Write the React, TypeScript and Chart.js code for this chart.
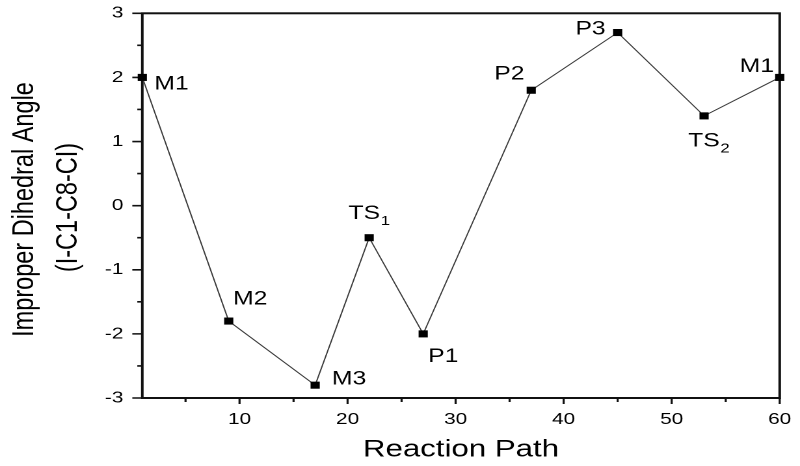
import React, { useEffect, useRef } from 'react';
import { Chart, registerables } from 'chart.js';

Chart.register(...registerables);

// ---- data ----
const reactionPath = [1, 9, 17, 22, 27, 37, 45, 53, 60];
const dihedralAngle = [2.0, -1.8, -2.8, -0.5, -2.0, 1.8, 2.7, 1.4, 2.0];
const pointNames = ['M1', 'M2', 'M3', 'TS_1', 'P1', 'P2', 'P3', 'TS_2', 'M1'];
const xTickValues = [5, 10, 15, 20, 25, 30, 35, 40, 45, 50, 55, 60];
const yTickValues = [-3, -2.5, -2, -1.5, -1, -0.5, 0, 0.5, 1, 1.5, 2, 2.5, 3];
const xTitle = 'Reaction Path';
const yTitleLines = ['Improper Dihedral Angle', '(I-C1-C8-CI)'];

// ---- style / layout ----
const LOGICAL_W = 615;
const H = 466;
const S = 800 / LOGICAL_W; // horizontal stretch of the picture
const FONT = '"Liberation Sans", Arial, Helvetica, sans-serif';

// label placement relative to point (screen px): dx, baseline dy, align
const labelPlacement = [
  { dx: 12, dy: 12, align: 'left' },
  { dx: 4.3, dy: -16.7, align: 'left' },
  { dx: 16.7, dy: -0.7, align: 'left' },
  { dx: -20.7, dy: -18.7, align: 'left' },
  { dx: 5, dy: 28, align: 'left' },
  { dx: -6.7, dy: -10.7, align: 'right' },
  { dx: -12, dy: 2, align: 'right' },
  { dx: -16, dy: 30.7, align: 'left' },
  { dx: -5.7, dy: -5.6, align: 'right' },
];
const yTitlePos = [
  { x: 33, y: 209.5 },
  { x: 77, y: 207.5 },
];

const framePlugin = {
  id: 'frame',
  beforeDatasetsDraw(chart: any) {
    const { ctx, chartArea: a, scales } = chart;
    const xs = scales.x;
    const ys = scales.y;
    ctx.save();
    ctx.strokeStyle = '#111';
    ctx.lineWidth = 2;
    ctx.strokeRect(a.left, a.top, a.right - a.left, a.bottom - a.top);
    ctx.lineWidth = 1.6;
    ctx.beginPath();
    xs.ticks.forEach((t: any) => {
      const px = xs.getPixelForValue(t.value);
      const len = t.value % 10 === 0 ? 6 : 4;
      ctx.moveTo(px, a.bottom);
      ctx.lineTo(px, a.bottom + len);
    });
    ctx.stroke();
    ctx.beginPath();
    ctx.lineWidth = 1.6;
    ys.ticks.forEach((t: any) => {
      const py = ys.getPixelForValue(t.value);
      const len = Number.isInteger(t.value) ? 10 / S : 5 / S;
      ctx.moveTo(a.left, py);
      ctx.lineTo(a.left - len, py);
    });
    ctx.stroke();
    ctx.restore();
  },
  afterDatasetsDraw(chart: any) {
    const { ctx, chartArea: a } = chart;
    const meta = chart.getDatasetMeta(0);
    ctx.save();
    ctx.fillStyle = '#000';
    ctx.textBaseline = 'alphabetic';
    // point labels
    pointNames.forEach((name, i) => {
      const el = meta.data[i];
      const p = labelPlacement[i];
      const [main, sub] = name.split('_');
      ctx.font = `19px ${FONT}`;
      const mw = ctx.measureText(main).width;
      ctx.font = `13px ${FONT}`;
      const sw = sub ? ctx.measureText(sub).width : 0;
      let x0 = el.x + p.dx / S;
      if (p.align === 'right') x0 -= mw + sw;
      const yb = el.y + p.dy;
      ctx.textAlign = 'left';
      ctx.font = `19px ${FONT}`;
      ctx.fillText(main, x0, yb);
      if (sub) {
        ctx.font = `13px ${FONT}`;
        ctx.fillText(sub, x0 + mw + 0.5, yb + 6);
      }
    });
    // x title
    ctx.font = `24px ${FONT}`;
    ctx.textAlign = 'center';
    ctx.fillText(xTitle, (a.left + a.right) / 2, 456.7);
    // y title
    yTitleLines.forEach((line, i) => {
      ctx.save();
      ctx.translate(yTitlePos[i].x / S, yTitlePos[i].y);
      ctx.rotate(-Math.PI / 2);
      ctx.font = `23.5px ${FONT}`;
      ctx.textAlign = 'center';
      ctx.fillText(line, 0, 0);
      ctx.restore();
    });
    ctx.restore();
  },
};

export default function App() {
  const ref = useRef<HTMLCanvasElement>(null);
  useEffect(() => {
    const canvas = ref.current!;
    const chart = new Chart(canvas, {
      type: 'line',
      data: {
        datasets: [
          {
            data: reactionPath.map((x, i) => ({ x, y: dihedralAngle[i] })),
            borderColor: '#3a3a3a',
            borderWidth: 1,
            pointStyle: 'rect',
            pointRadius: 5,
            pointBackgroundColor: '#000',
            pointBorderColor: '#000',
            pointBorderWidth: 0,
            tension: 0,
            clip: false as any,
          },
        ],
      },
      options: {
        responsive: false,
        devicePixelRatio: 2,
        animation: false,
        layout: {
          autoPadding: false,
          padding: { top: 13.3, right: LOGICAL_W - 779.7 / S, left: 0, bottom: 0 },
        },
        plugins: { legend: { display: false }, tooltip: { enabled: false } },
        scales: {
          x: {
            type: 'linear',
            min: 1,
            max: 60,
            afterBuildTicks: (s: any) => {
              s.ticks = xTickValues.map((v) => ({ value: v }));
            },
            afterFit: (s: any) => {
              s.height = H - 398;
            },
            grid: { display: false, drawTicks: true, tickLength: 12 },
            border: { display: false },
            ticks: {
              autoSkip: false,
              maxRotation: 0,
              padding: 0,
              color: '#000',
              font: { size: 16, family: FONT },
              callback: (v: any) => (Number(v) % 10 === 0 ? String(v) : ''),
            },
          },
          y: {
            type: 'linear',
            min: -3,
            max: 3,
            afterBuildTicks: (s: any) => {
              s.ticks = yTickValues.map((v) => ({ value: v }));
            },
            afterFit: (s: any) => {
              s.width = 142.3 / S;
            },
            grid: { display: false, drawTicks: true, tickLength: 14.5 },
            border: { display: false },
            ticks: {
              autoSkip: false,
              padding: 0,
              color: '#000',
              font: { size: 16, family: FONT },
              callback: (v: any) => (Number.isInteger(Number(v)) ? String(v) : ''),
            },
          },
        },
      },
      plugins: [framePlugin],
    });
    return () => chart.destroy();
  }, []);
  return (
    <div style={{ position: 'absolute', left: 0, top: 0, width: 800, height: H, background: '#fff' }}>
      <canvas
        ref={ref}
        width={LOGICAL_W}
        height={H}
        style={{ width: '800px', height: `${H}px`, display: 'block' }}
      />
    </div>
  );
}
